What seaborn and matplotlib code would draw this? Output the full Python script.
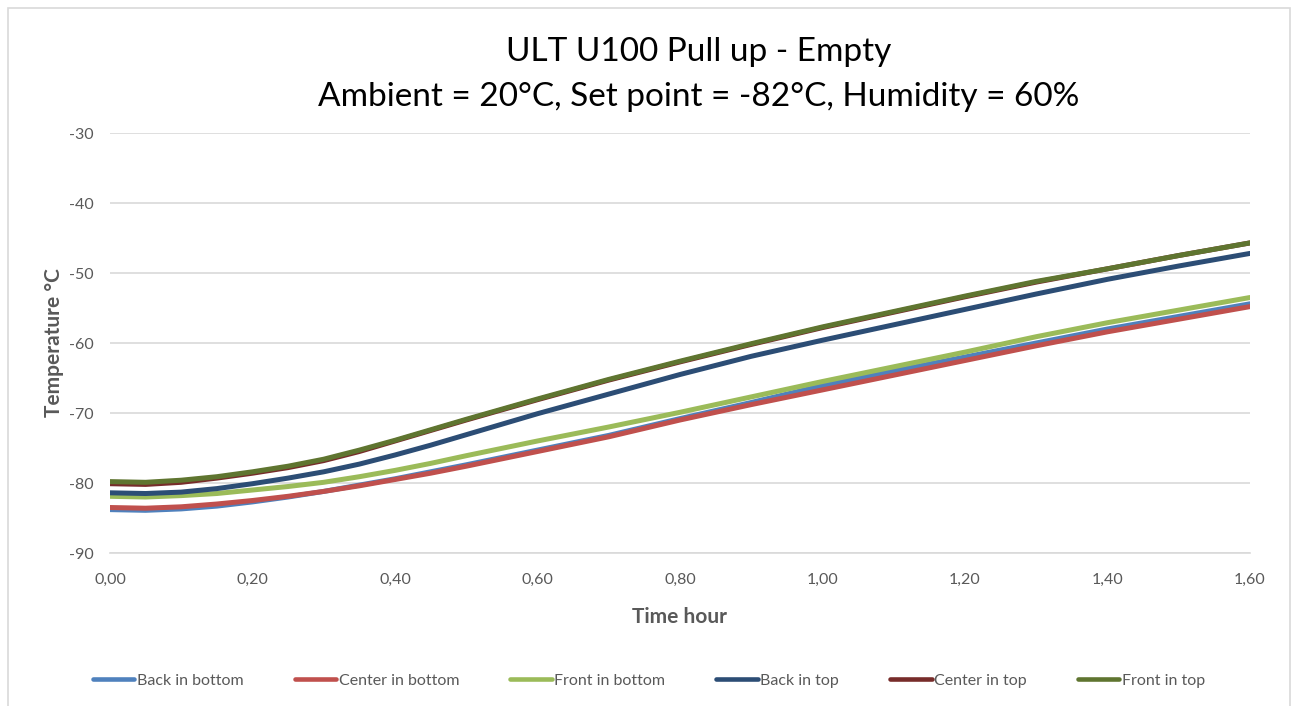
import matplotlib

matplotlib.use("Agg")
import matplotlib.pyplot as plt
import numpy as np
import pandas as pd
import seaborn as sns
from matplotlib.patches import Rectangle

# time in hours
time_h = [0.0, 0.05, 0.1, 0.15, 0.2, 0.25, 0.3, 0.35, 0.4, 0.45, 0.5, 0.6, 0.7, 0.8, 0.9, 1.0, 1.1, 1.2, 1.3, 1.4, 1.5, 1.6]

back_bottom = [-83.8, -83.9, -83.7, -83.3, -82.7, -82.0, -81.2, -80.3, -79.4, -78.4, -77.4, -75.3, -73.2, -70.8, -68.5, -66.1, -64.0, -62.0, -60.0, -58.0, -56.2, -54.4]
center_bottom = [-83.5, -83.6, -83.4, -83.0, -82.5, -81.9, -81.2, -80.4, -79.5, -78.6, -77.6, -75.5, -73.4, -71.0, -68.8, -66.7, -64.6, -62.5, -60.4, -58.4, -56.6, -54.8]
front_bottom = [-81.9, -82.0, -81.8, -81.5, -81.0, -80.5, -79.9, -79.1, -78.2, -77.2, -76.1, -74.0, -72.0, -69.9, -67.7, -65.5, -63.4, -61.3, -59.1, -57.1, -55.3, -53.5]
back_top = [-81.4, -81.5, -81.3, -80.8, -80.1, -79.3, -78.4, -77.3, -76.0, -74.6, -73.1, -70.1, -67.3, -64.5, -61.9, -59.6, -57.4, -55.2, -53.0, -50.9, -49.0, -47.2]
center_top = [-80.1, -80.2, -79.9, -79.3, -78.6, -77.8, -76.8, -75.5, -74.0, -72.5, -71.0, -68.1, -65.3, -62.7, -60.2, -57.8, -55.6, -53.4, -51.3, -49.4, -47.5, -45.7]
front_top = [-79.8, -79.9, -79.6, -79.1, -78.4, -77.6, -76.6, -75.3, -73.9, -72.4, -70.9, -68.0, -65.2, -62.6, -60.1, -57.7, -55.5, -53.3, -51.2, -49.4, -47.5, -45.7]

series_names = ["Back in bottom", "Center in bottom", "Front in bottom", "Back in top", "Center in top", "Front in top"]
series_values = [back_bottom, center_bottom, front_bottom, back_top, center_top, front_top]
colors = ["#4F81BD", "#C0504D", "#9BBB59", "#2C4D75", "#772C2A", "#5F7530"]

x_ticks = [0.0, 0.2, 0.4, 0.6, 0.8, 1.0, 1.2, 1.4, 1.6]
y_ticks = [-90, -80, -70, -60, -50, -40, -30]

frames = []
for name, vals in zip(series_names, series_values):
    frames.append(pd.DataFrame({"time": time_h, "temp": vals, "sensor": name}))
df = pd.concat(frames, ignore_index=True)

sns.set_theme(style="white")
plt.rcParams["font.family"] = ["Lato", "DejaVu Sans"]

grey = "#595959"
fig = plt.figure(figsize=(12.98, 7.06), dpi=100)
ax = fig.add_axes([0.0847, 0.2167, 0.8783, 0.5949])

sns.lineplot(
    data=df,
    x="time",
    y="temp",
    hue="sensor",
    hue_order=series_names,
    palette=colors,
    linewidth=3.6,
    ax=ax,
    legend=False,
)

ax.set_xlim(0, 1.6)
ax.set_ylim(-90, -30)
ax.set_xticks(x_ticks)
ax.set_xticklabels([f"{t:.2f}".replace(".", ",") for t in x_ticks])
ax.set_yticks(y_ticks)
ax.set_yticklabels([str(v) for v in y_ticks])
ax.tick_params(axis="x", colors=grey, labelsize=11.5, length=0, pad=14)
ax.tick_params(axis="y", colors=grey, labelsize=11.5, length=0, pad=12)
ax.grid(axis="y", color="#D9D9D9", linewidth=1.2)
ax.set_axisbelow(True)
for side in ["top", "right", "left"]:
    ax.spines[side].set_visible(False)
ax.spines["bottom"].set_color("#D9D9D9")
ax.spines["bottom"].set_linewidth(1.2)

ax.set_xlabel("Time hour", fontsize=15, fontweight="bold", color=grey, labelpad=15)
ax.set_ylabel("Temperature °C", fontsize=15, fontweight="bold", color=grey, labelpad=3)

fig.text(0.538, 0.926, "ULT U100 Pull up - Empty", ha="center", va="center", fontsize=24, color="black")
fig.text(0.538, 0.862, "Ambient = 20°C, Set point = -82°C, Humidity = 60%", ha="center", va="center", fontsize=24, color="black")

handles = [plt.Line2D([], [], color=c, linewidth=3.3) for c in colors]
fig.legend(
    handles,
    series_names,
    loc="center",
    bbox_to_anchor=(0.5, 0.036),
    ncol=6,
    frameon=False,
    fontsize=11.5,
    labelcolor=grey,
    handlelength=2.6,
    handletextpad=0.15,
    columnspacing=3.2,
)

fig.add_artist(Rectangle((8 / 1298, -0.05), 1282 / 1298, 1.05 - 8 / 706, transform=fig.transFigure,
                         fill=False, edgecolor="#D9D9D9", linewidth=1.2))

fig.savefig("out.png", dpi=100)
